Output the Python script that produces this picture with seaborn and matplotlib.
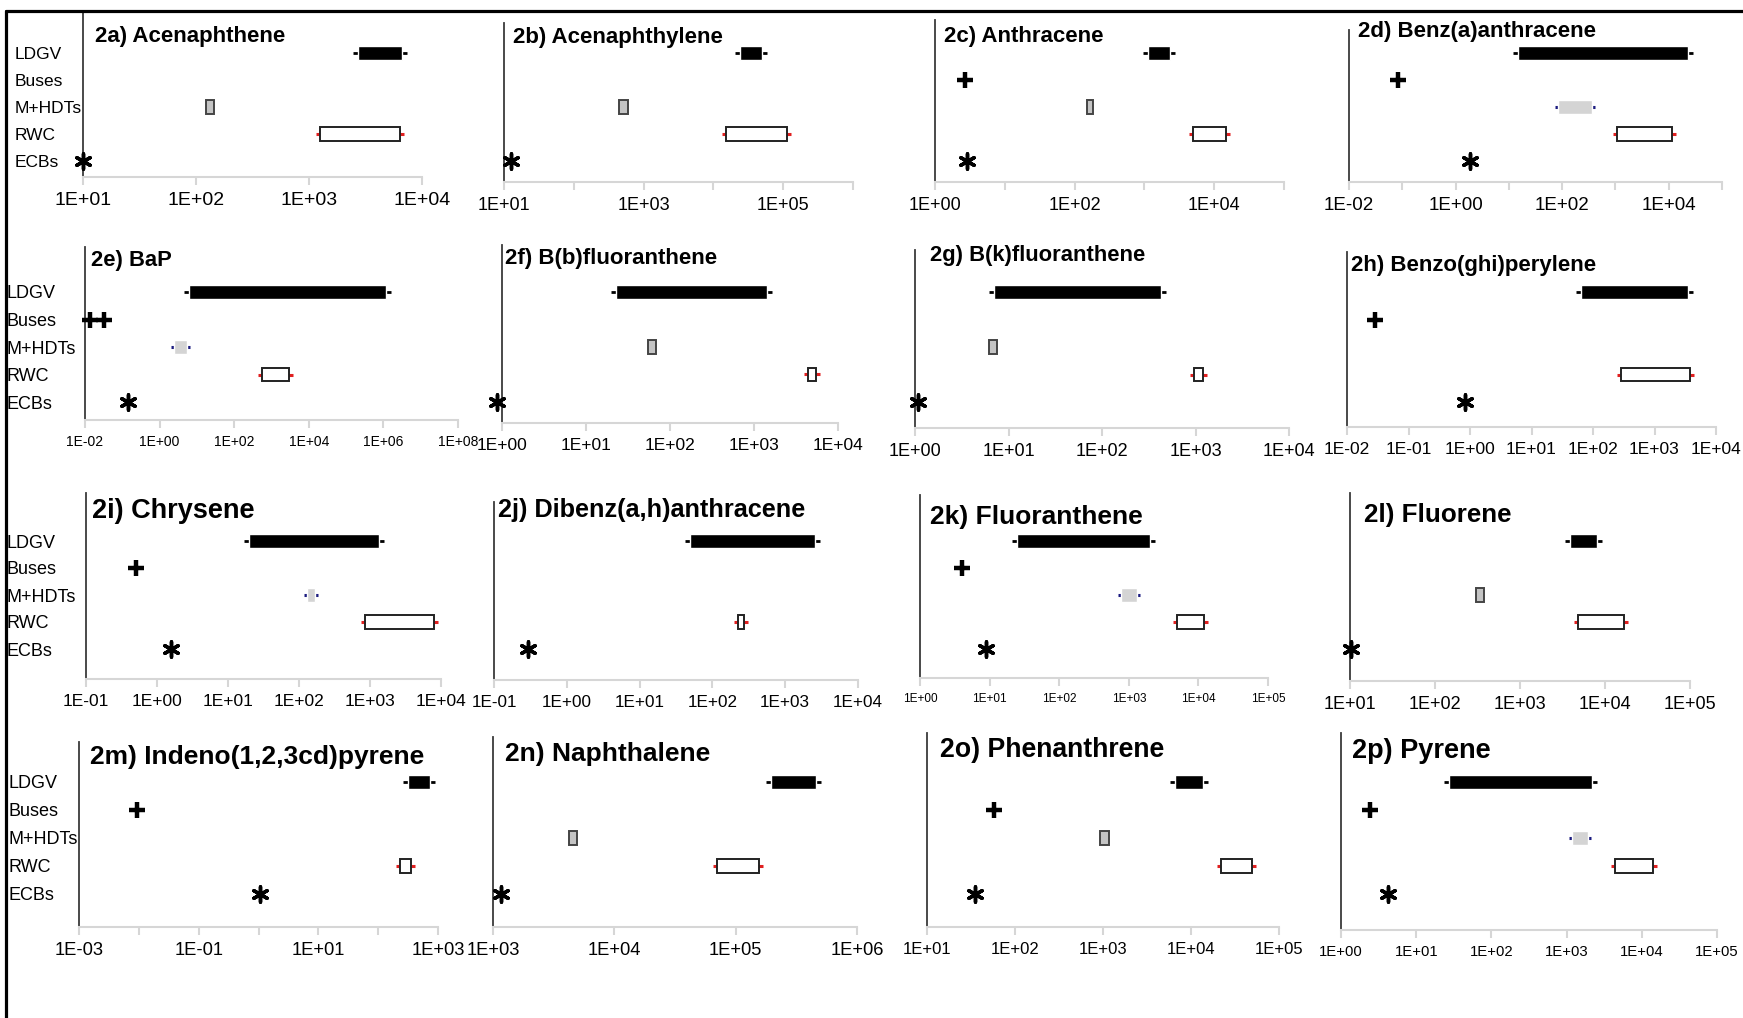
import numpy as np
import pandas as pd
import seaborn as sns
import matplotlib.pyplot as plt
from matplotlib.lines import Line2D

sources = ['LDGV', 'Buses', 'M+HDTs', 'RWC', 'ECBs']

titles = ['2a) Acenaphthene', '2b) Acenaphthylene', '2c) Anthracene', '2d) Benz(a)anthracene',
          '2e) BaP', '2f) B(b)fluoranthene', '2g) B(k)fluoranthene', '2h) Benzo(ghi)perylene',
          '2i) Chrysene', '2j) Dibenz(a,h)anthracene', '2k) Fluoranthene', '2l) Fluorene',
          '2m) Indeno(1,2,3cd)pyrene', '2n) Naphthalene', '2o) Phenanthrene', '2p) Pyrene']

# axis limits as powers of ten
x_lo = [1, 1, 0, -2, -2, 0, 0, -2, -1, -1, 0, 1, -3, 3, 1, 0]
x_hi = [4, 6, 5, 5, 8, 4, 4, 4, 4, 4, 5, 5, 3, 6, 5, 5]
tick_step = [1, 1, 1, 1, 2, 1, 1, 1, 1, 1, 1, 1, 1, 1, 1, 1]
label_step = [1, 2, 2, 2, 2, 1, 1, 1, 1, 1, 1, 1, 2, 1, 1, 1]

ldgv_lo = [2700, 24000, 1120, 15, 6.3, 22.6, 7, 65, 20, 50, 25, 3900, 320, 195000, 6500, 27.6]
ldgv_hi = [6700, 50000, 2300, 23000, 1.2e6, 1410, 430, 3560, 1320, 2600, 2000, 8100, 730, 460000, 13800, 2180]
buses = [[], [], [2.7], [0.082], [0.014, 0.032], [], [], [0.029],
         [0.5], [], [4.0], [], [0.0094], [], [57], [2.4]]
mhdt_lo = [123, 450, 150, 83, 2.4, 55, 6.2, None, 128, None, 760, 300, None, 4200, 930, 1180]
mhdt_hi = [145, 600, 185, 360, 5.5, 68, 7.6, None, 170, None, 1300, 380, None, 4900, 1180, 1900]
rwc_lo = [1260, 15000, 5000, 1070, 540, 4370, 960, 290, 860, 222, 4900, 4800, 230, 70000, 22000, 4350]
rwc_hi = [6400, 112000, 15000, 11500, 2900, 5450, 1200, 3800, 7900, 275, 12000, 16600, 360, 155000, 49000, 14200]
ecbs = [10, 12.6, 2.9, 1.86, 0.14, 0.87, 1.07, 0.83, 1.55, 0.29, 8.8, 10.4, 1.05, 1160, 35, 4.26]

# layout (pixels): plot box left, right, top, bottom
boxes = [(83, 422, 13, 177), (504, 853, 23, 182), (935, 1284, 20, 182), (1349, 1722, 30, 182),
         (85, 458, 247, 420), (502, 838, 245, 423), (915, 1289, 250, 428), (1347, 1716, 252, 427),
         (86, 441, 493, 679), (494, 858, 502, 680), (920, 1268, 495, 678), (1350, 1690, 493, 681),
         (79, 438, 742, 927), (493, 857, 737, 927), (927, 1279, 733, 927), (1341, 1717, 733, 930)]
title_x = [95, 513, 944, 1358, 91, 505, 930, 1351, 92, 498, 930, 1364, 90, 505, 940, 1352]
title_base = [42, 43, 42, 37, 266, 264, 261, 271, 518, 517, 524, 522, 764, 761, 757, 758]
title_size = [16, 16, 16, 16, 15.8, 16, 15.8, 16, 19.5, 18.2, 19, 18.7, 19, 19, 19.2, 19.5]
row_y0 = [53, 292, 541, 782]
row_s = [27, 27.5, 27, 28]
label_pad = [68, 79, 80, 71]
label_size = [12.5, 13, 13, 13]
tick_size = [14, 13, 13, 13.5, 10, 12.5, 13, 12.5, 12.5, 12.3, 8.5, 13, 13.2, 13.2, 12, 10.7]
mhdt_faint = [False, False, False, True, True, False, False, False,
              True, False, True, False, False, False, False, True]

sns.set_theme(style='white')
plt.rcParams['font.family'] = ['Liberation Sans', 'DejaVu Sans']
plt.rcParams['text.color'] = 'black'
plt.rcParams['xtick.labelcolor'] = 'black'
plt.rcParams['ytick.labelcolor'] = 'black'

W, H = 1743, 1018
fig = plt.figure(figsize=(W / 100, H / 100), dpi=100)
fig.patch.set_facecolor('white')

for i in range(16):
    L, R, T, B = boxes[i]
    row = i // 4
    ax = fig.add_axes([L / W, 1 - B / H, (R - L) / W, (B - T) / H])
    ax.set_facecolor('none')
    ax.set_xscale('log')
    ax.set_xlim(10.0 ** x_lo[i], 10.0 ** x_hi[i])
    y0, s = row_y0[row], row_s[row]
    ax.set_ylim((B - y0) / s, (T - y0) / s)

    # LDGV range
    ax.plot([ldgv_lo[i], ldgv_hi[i]], [0, 0], ls='none', marker='_', ms=7, mew=2,
            color='black', clip_on=False, zorder=1)
    ax.barh(0, ldgv_hi[i] - ldgv_lo[i], left=ldgv_lo[i], height=0.52,
            color='black', zorder=2)

    # Buses
    if buses[i]:
        sns.scatterplot(x=buses[i], y=[1] * len(buses[i]), marker='+', s=120,
                        color='black', linewidth=3.2, ax=ax, clip_on=False, zorder=3)

    # M+HDTs range
    if mhdt_lo[i] is not None:
        if mhdt_faint[i]:
            ax.plot([mhdt_lo[i], mhdt_hi[i]], [2, 2], ls='none', marker='_', ms=5, mew=2.2,
                    color='#1c1c80', clip_on=False, zorder=1)
            ax.barh(2, mhdt_hi[i] - mhdt_lo[i], left=mhdt_lo[i], height=0.5,
                    color='#d4d4d4', zorder=2)
        else:
            ax.barh(2, mhdt_hi[i] - mhdt_lo[i], left=mhdt_lo[i], height=0.5,
                    color='#c4c4c4', edgecolor='#444444', linewidth=1.4, zorder=2)

    # RWC range
    ax.plot([rwc_lo[i], rwc_hi[i]], [3, 3], ls='none', marker='_', ms=6, mew=2.2,
            color='#e02020', clip_on=False, zorder=1)
    ax.barh(3, rwc_hi[i] - rwc_lo[i], left=rwc_lo[i], height=0.5,
            color='white', edgecolor='#222222', linewidth=1.4, zorder=2)

    # ECBs
    sns.scatterplot(x=[ecbs[i]], y=[4], marker=(6, 2, 0), s=120, color='black',
                    linewidth=2.5, ax=ax, clip_on=False, zorder=3)

    # axes styling
    for side in ['top', 'right']:
        ax.spines[side].set_visible(False)
    ax.spines['left'].set_color('#3a3a3a')
    ax.spines['left'].set_linewidth(1.3)
    ax.spines['bottom'].set_color('#d6d6d6')
    ax.spines['bottom'].set_linewidth(1.5)

    exps = list(range(x_lo[i], x_hi[i] + 1, tick_step[i]))
    labels = ['1E%+03d' % e if (e - x_lo[i]) % label_step[i] == 0 else '' for e in exps]
    ax.set_xticks([10.0 ** e for e in exps])
    ax.set_xticklabels(labels)
    ax.xaxis.set_minor_locator(plt.NullLocator())
    ax.tick_params(axis='x', which='major', bottom=True, direction='out', length=6,
                   width=1.5, color='#d6d6d6', pad=5, labelsize=tick_size[i],
                   labelcolor='black')

    if i % 4 == 0:
        ax.set_yticks(range(5))
        ax.set_yticklabels(sources)
        ax.tick_params(axis='y', left=False, length=0, pad=label_pad[row] * 0.72,
                       labelsize=label_size[row], labelcolor='black')
        for t in ax.get_yticklabels():
            t.set_ha('left')
    else:
        ax.set_yticks([])
    ax.set_xlabel('')
    ax.set_ylabel('')

    fig.text(title_x[i] / W, 1 - title_base[i] / H, titles[i], ha='left', va='baseline',
             fontsize=title_size[i], fontweight='bold', color='black')

# outer frame of the original figure
fig.add_artist(Line2D([6 / W, 6 / W], [0, 1 - 11 / H], transform=fig.transFigure,
                      color='black', lw=2.3))
fig.add_artist(Line2D([6 / W, 1], [1 - 11 / H, 1 - 11 / H], transform=fig.transFigure,
                      color='black', lw=2.3))

fig.savefig('out.png', dpi=100)
plt.close('all')
